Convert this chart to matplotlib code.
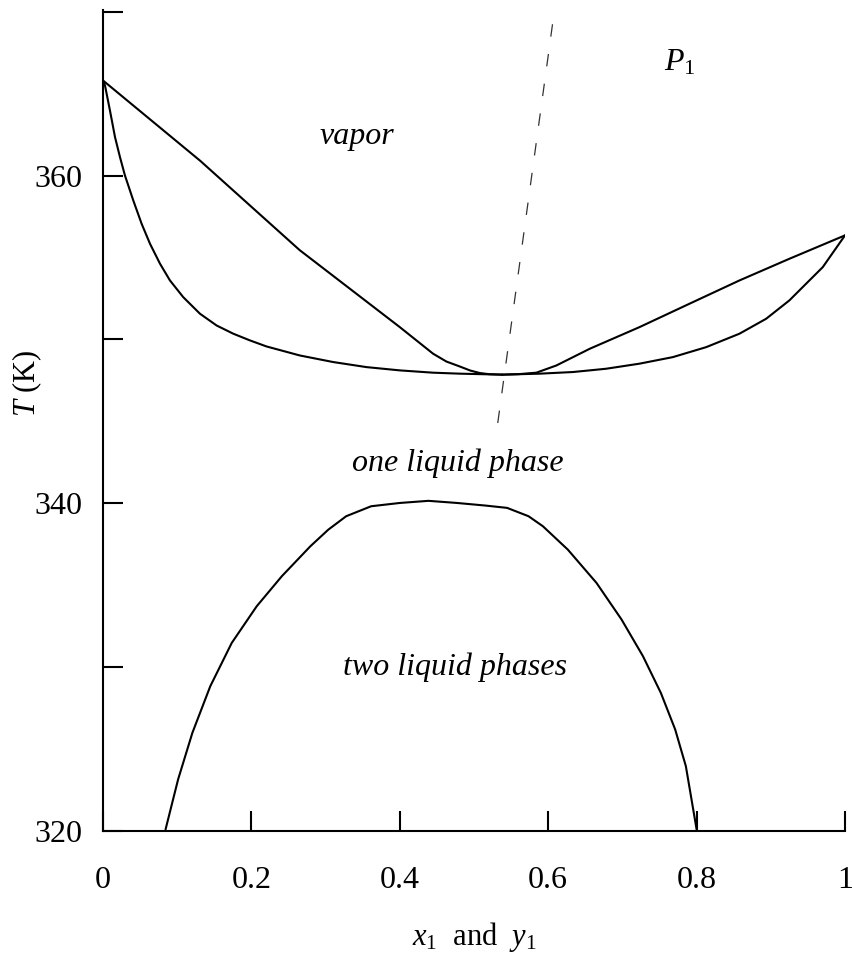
import matplotlib
matplotlib.use("Agg")
import matplotlib.pyplot as plt

plt.rcParams['font.family'] = ['Liberation Serif', 'DejaVu Serif']
plt.rcParams['mathtext.fontset'] = 'custom'
plt.rcParams['mathtext.rm'] = 'Liberation Serif'
plt.rcParams['mathtext.it'] = 'Liberation Serif:italic'

# Vapor (dew-point) curve, T in K versus y1
dew_left_x = [0.0, 0.131, 0.265, 0.40, 0.4224, 0.4448, 0.4628, 0.4807, 0.495, 0.5077, 0.52, 0.538]
dew_left_T = [365.8, 360.9, 355.45, 350.75, 349.94, 349.13, 348.65, 348.35, 348.1, 347.95, 347.88, 347.85]
dew_right_x = [0.538, 0.56, 0.584, 0.611, 0.656, 0.723, 0.7905, 0.8578, 0.925, 1.0]
dew_right_T = [347.85, 347.88, 347.97, 348.41, 349.43, 350.75, 352.18, 353.6, 354.92, 356.35]

# Liquid (bubble-point) curve, T in K versus x1
bub_x = [0.0, 0.0027, 0.0094, 0.0162, 0.0229, 0.0296, 0.0408, 0.0521, 0.0633, 0.0768,
         0.0902, 0.1081, 0.1306, 0.1531, 0.1755, 0.198, 0.2204, 0.2653, 0.3101, 0.3551,
         0.40, 0.4448, 0.4807, 0.538, 0.5885, 0.6333, 0.678, 0.723, 0.768, 0.813,
         0.8578, 0.8937, 0.925, 0.9476, 0.97, 1.0]
bub_T = [365.8, 365.49, 363.96, 362.34, 361.12, 360.0, 358.48, 357.05, 355.84, 354.62,
         353.6, 352.58, 351.57, 350.85, 350.35, 349.94, 349.57, 349.02, 348.62, 348.31,
         348.11, 347.97, 347.91, 347.85, 347.91, 348.01, 348.21, 348.52, 348.92, 349.53,
         350.35, 351.26, 352.38, 353.4, 354.41, 356.35]

# Liquid-liquid solubility curve
lle_x = [0.0843, 0.1012, 0.1205, 0.1446, 0.1735, 0.2072, 0.241, 0.2795, 0.3036, 0.3277,
         0.3614, 0.40, 0.4386, 0.4771, 0.5157, 0.5446, 0.5735, 0.5928, 0.6265, 0.6651,
         0.6988, 0.7277, 0.7518, 0.7711, 0.7855, 0.80]
lle_T = [320.1, 323.15, 326.0, 328.84, 331.48, 333.72, 335.55, 337.38, 338.39, 339.21,
         339.82, 340.02, 340.15, 340.02, 339.86, 339.72, 339.21, 338.6, 337.17, 335.14,
         332.91, 330.67, 328.43, 326.2, 323.96, 320.1]

# Dashed azeotrope locus
azeo_x = [0.532, 0.606]
azeo_T = [344.9, 369.3]

x_ticks = [0, 0.2, 0.4, 0.6, 0.8, 1]
x_tick_labels = ["0", "0.2", "0.4", "0.6", "0.8", "1"]
y_ticks = [320, 330, 340, 350, 360, 370]
y_tick_labels = ["320", "", "340", "", "360", ""]

fig = plt.figure(figsize=(8.52, 9.55), dpi=100)
ax = fig.add_axes([0.1209, 0.1298, 0.8709, 0.8597])

lw = 1.5
style = dict(color='black', lw=lw, solid_joinstyle='round', solid_capstyle='round')
ax.plot(dew_left_x, dew_left_T, **style)
ax.plot(dew_right_x, dew_right_T, **style)
ax.plot(bub_x, bub_T, **style)
ax.plot(lle_x, lle_T, **style)
ax.plot(azeo_x, azeo_T, color='#333333', lw=0.9, linestyle=(0, (10, 14)))

ax.set_xlim(0, 1)
ax.set_ylim(320, 370.1)
ax.set_xticks(x_ticks)
ax.set_xticklabels(x_tick_labels)
ax.set_yticks(y_ticks)
ax.set_yticklabels(y_tick_labels)

for side in ('top', 'right'):
    ax.spines[side].set_visible(False)
for side in ('left', 'bottom'):
    ax.spines[side].set_linewidth(1.5)

ax.tick_params(axis='both', direction='in', length=14.5, width=1.5, labelsize=23)
ax.tick_params(axis='x', pad=25)
ax.tick_params(axis='y', pad=15)

ax.set_xlabel(r"$x_1$  and  $y_1$", fontsize=22)
ax.xaxis.set_label_coords(0.5, -0.108)
ax.set_ylabel(r"$T$ (K)", fontsize=22)
ax.yaxis.set_label_coords(-0.08, 0.545)

ax.text(0.342, 361.95, "vapor", fontsize=23, style='italic', ha='center', va='baseline')
ax.text(0.777, 366.4, r"$P_1$", fontsize=23, ha='center', va='baseline')
ax.text(0.478, 342.0, "one liquid phase", fontsize=23, style='italic', ha='center', va='baseline')
ax.text(0.474, 329.5, "two liquid phases", fontsize=23, style='italic', ha='center', va='baseline')

fig.savefig("out.png", dpi=100)
